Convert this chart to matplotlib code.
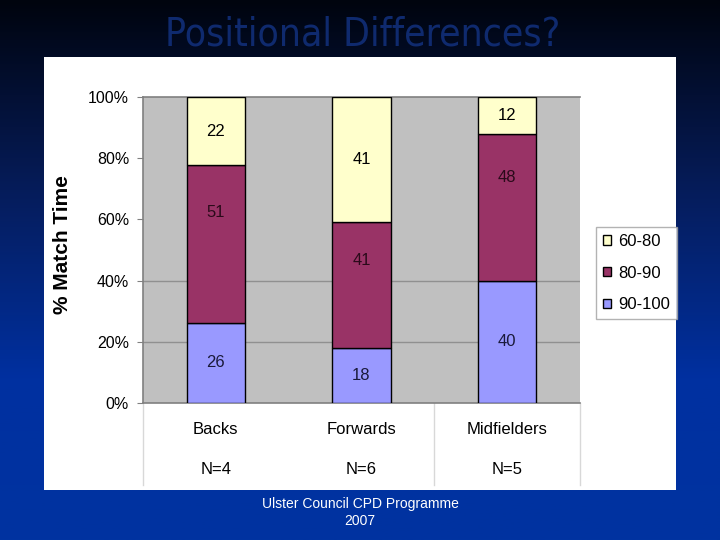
import matplotlib.pyplot as plt
import numpy as np
from matplotlib.patches import Patch, Rectangle
from matplotlib.colors import LinearSegmentedColormap

# data
positions = ['Backs', 'Forwards', 'Midfielders']
counts = ['N=4', 'N=6', 'N=5']
band_90_100 = [26, 18, 40]
band_80_90 = [51, 41, 48]
band_60_80 = [22, 41, 12]
yticks = [0, 20, 40, 60, 80, 100]

plt.rcParams['font.family'] = ['Liberation Sans', 'DejaVu Sans']

fig = plt.figure(figsize=(7.2, 5.4), dpi=100)

# background gradient
bg = fig.add_axes([0, 0, 1, 1], zorder=-10)
cmap = LinearSegmentedColormap.from_list('bg', [(0, '#00040e'), (0.35, '#061c5a'),
                                                (0.7, '#0030a0'), (1, '#0033a0')])
grad = np.linspace(0, 1, 256).reshape(-1, 1)
bg.imshow(grad, aspect='auto', cmap=cmap, extent=[0, 1, 0, 1], origin='upper')
bg.set_axis_off()

# white panel
fig.patches.append(Rectangle((44 / 720, 1 - 490 / 540), 632 / 720, 433 / 540,
                             transform=fig.transFigure, facecolor='white',
                             edgecolor='none', zorder=-5))

fig.text(363 / 720, 1 - 35 / 540, 'Positional Differences?', color='#0f2a6e',
         fontsize=28, ha='center', va='center', family='DejaVu Sans',
         fontstretch='condensed')

ax = fig.add_axes([143 / 720, 1 - 403 / 540, 437 / 720, 306 / 540])
ax.set_facecolor('#c0c0c0')

b1 = np.array(band_90_100, dtype=float)
b2 = np.array(band_80_90, dtype=float)
b3 = np.array(band_60_80, dtype=float)
tot = b1 + b2 + b3
p1, p2, p3 = b1 / tot * 100, b2 / tot * 100, b3 / tot * 100
x = np.arange(len(positions))
w = 0.4
ax.bar(x, p1, w, color='#9999ff', edgecolor='black', linewidth=1, zorder=3)
ax.bar(x, p2, w, bottom=p1, color='#993366', edgecolor='black', linewidth=1, zorder=3)
ax.bar(x, p3, w, bottom=p1 + p2, color='#ffffcc', edgecolor='black', linewidth=1, zorder=3)

for i in range(len(positions)):
    ax.text(x[i], p1[i] / 2, str(band_90_100[i]), ha='center', va='center',
            fontsize=12, color='#1a1a3a', zorder=4)
    ax.text(x[i], p1[i] + p2[i] * 0.7, str(band_80_90[i]), ha='center', va='center',
            fontsize=12, color='#2a0a1a', zorder=4)
    ax.text(x[i], p1[i] + p2[i] + p3[i] / 2, str(band_60_80[i]), ha='center', va='center',
            fontsize=12, color='black', zorder=4)

ax.set_xlim(-0.5, 2.5)
ax.set_ylim(0, 100)
for g in [20, 40]:
    ax.axhline(g, color='#909090', linewidth=1, zorder=1)
ax.set_yticks(yticks)
ax.set_yticklabels([f'{t}%' for t in yticks], fontsize=11.5)
ax.tick_params(axis='y', length=4, color='#808080', pad=6)
ax.set_xticks([])
for s in ax.spines.values():
    s.set_color('#808080')
    s.set_linewidth(1.2)
ax.spines['right'].set_visible(False)

# category table under the axis
tr = ax.get_xaxis_transform()
for xv in [-0.5, 1.5, 2.5]:
    ax.plot([xv, xv], [0, -82 / 306], transform=tr, clip_on=False,
            color='#d8d8d8', linewidth=1)
for i in range(len(positions)):
    ax.text(x[i], -27 / 306, positions[i], transform=tr, ha='center', va='center',
            fontsize=12)
    ax.text(x[i], -67 / 306, counts[i], transform=tr, ha='center', va='center',
            fontsize=12)

ax.text(62 / 720, 1 - 245 / 540, '% Match Time', transform=fig.transFigure,
        rotation=90, fontsize=15, fontweight='bold', ha='center', va='center')

handles = [Patch(facecolor='#ffffcc', edgecolor='black', label='60-80'),
           Patch(facecolor='#993366', edgecolor='black', label='80-90'),
           Patch(facecolor='#9999ff', edgecolor='black', label='90-100')]
fig.legend(handles=handles, loc='center', bbox_to_anchor=(636.5 / 720, 1 - 273 / 540),
           fontsize=12, frameon=True, fancybox=False, edgecolor='#a0a0a0',
           handlelength=0.5, handleheight=0.5, handletextpad=0.4,
           labelspacing=1.0, borderpad=0.4, borderaxespad=0)

fig.text(360 / 720, 1 - 504 / 540, 'Ulster Council CPD Programme', color='white',
         fontsize=10, ha='center', va='center')
fig.text(360 / 720, 1 - 521 / 540, '2007', color='white', fontsize=10,
         ha='center', va='center')

fig.savefig('out.png', dpi=100)
